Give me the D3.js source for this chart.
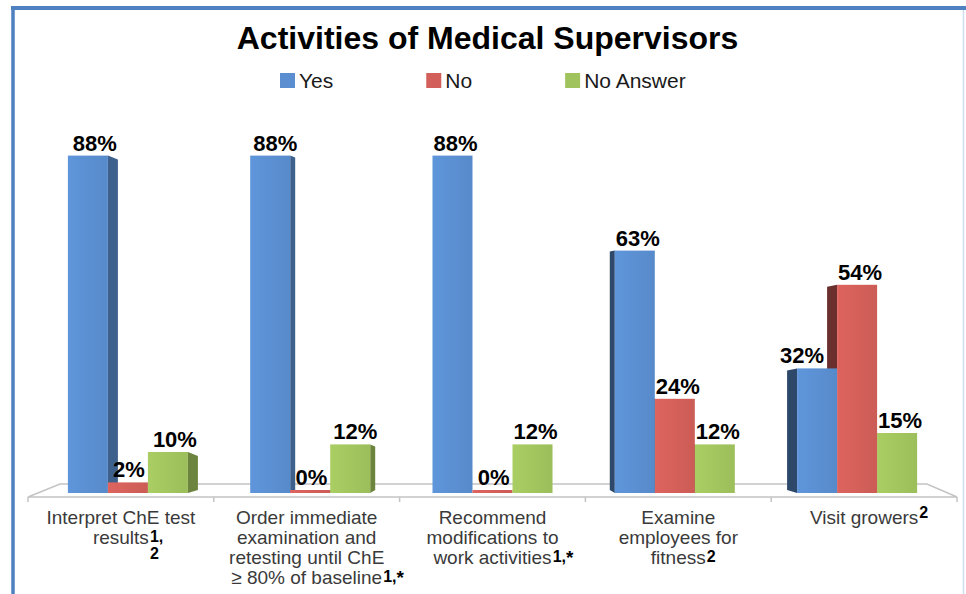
<!DOCTYPE html>
<html>
<head>
<meta charset="utf-8">
<script src="https://cdn.jsdelivr.net/npm/d3@7"></script>
<style>
  html, body { margin: 0; padding: 0; background: #ffffff; }
  svg { display: block; font-family: "Liberation Sans", Arial, sans-serif; }
</style>
</head>
<body>
<svg id="chart" width="966" height="594"></svg>
<script>
// ---------------- data ----------------
const chartTitle = "Activities of Medical Supervisors";
const categories = [
  "Interpret ChE test results",
  "Order immediate examination and retesting until ChE ≥ 80% of baseline",
  "Recommend modifications to work activities",
  "Examine employees for fitness",
  "Visit growers"
];
const categoryLabelLines = [
  ["Interpret ChE test", "results"],
  ["Order immediate", "examination and", "retesting until ChE", "≥ 80% of baseline"],
  ["Recommend", "modifications to", "work activities"],
  ["Examine", "employees for", "fitness"],
  ["Visit growers"]
];
const footnoteMarks = [["1,", "2"], ["1,*"], ["1,*"], ["2"], ["2"]];
const seriesNames = ["Yes", "No", "No Answer"];
const yesValues = [88, 88, 88, 63, 32];
const noValues = [2, 0, 0, 24, 54];
const noAnswerValues = [10, 12, 12, 12, 15];
const seriesValues = [yesValues, noValues, noAnswerValues];

// ---------------- styles ----------------
const seriesColors = ["#5a8ed0", "#d25f59", "#a1c35e"];
const W = 966, H = 594;

const svg = d3.select("#chart");

// frame
svg.append("line").attr("x1", 13).attr("x2", 13).attr("y1", 6).attr("y2", H)
  .attr("stroke", "#4f81c0").attr("stroke-width", 3.5);
svg.append("line").attr("x1", 11).attr("x2", W).attr("y1", 8).attr("y2", 8)
  .attr("stroke", "#4f81c0").attr("stroke-width", 4);
svg.append("line").attr("x1", 963.5).attr("x2", 963.5).attr("y1", 10).attr("y2", H)
  .attr("stroke", "#cddcee").attr("stroke-width", 1.5);

// title
svg.append("text").attr("x", 487.5).attr("y", 49).attr("text-anchor", "middle")
  .attr("font-size", 32).attr("font-weight", "bold").attr("fill", "#000")
  .text(chartTitle);

// legend
let lx = 280;
seriesNames.forEach((name, i) => {
  svg.append("rect").attr("x", lx).attr("y", 73).attr("width", 15).attr("height", 15)
    .attr("fill", seriesColors[i]);
  const t = svg.append("text").attr("x", lx + 19).attr("y", 88)
    .attr("font-size", 21).attr("fill", "#1a1a1a").text(name);
  lx += 19 + t.node().getComputedTextLength() + 93;
});

// scales
const x0 = d3.scaleBand().domain(categories).range([28, 957]).padding(0);
const bw = x0.bandwidth();
const x1 = d3.scaleBand().domain(seriesNames).range([bw * 0.177, bw * 0.823]).padding(0);
const y = d3.scaleLinear().domain([0, 100]).range([490, 110]);
const plotCenter = (28 + 957) / 2;
const barBottom = y(0) + 3;

// floor
const floorBack = 484, floorFront = 497;
svg.append("path")
  .attr("d", `M60,${floorBack} L927,${floorBack} L957,${floorFront} L28,${floorFront} Z`)
  .attr("fill", "#ffffff").attr("stroke", "#c4c4c4").attr("stroke-width", 1.5);
const tickXs = categories.map(c => x0(c)).concat([x0.range()[1]]);
svg.selectAll(".tick").data(tickXs).enter().append("line")
  .attr("x1", d => d).attr("x2", d => d).attr("y1", floorFront).attr("y2", floorFront + 5)
  .attr("stroke", "#c4c4c4").attr("stroke-width", 1.5);

// gradients
const defs = svg.append("defs");
seriesColors.forEach((c, i) => {
  const g = defs.append("linearGradient").attr("id", "g" + i)
    .attr("x1", "0%").attr("x2", "100%").attr("y1", "0%").attr("y2", "0%");
  g.append("stop").attr("offset", "0%").attr("stop-color", d3.color(c).brighter(0.15));
  g.append("stop").attr("offset", "100%").attr("stop-color", d3.color(c).darker(0.08));
});

// bars
const barsG = svg.append("g");
const labelInfo = [];
categories.forEach((cat, ci) => {
  const cc = x0(cat) + bw / 2;
  const offset = cc - plotCenter;           // perspective offset
  const ratio = offset / (plotCenter - (28 + bw / 2));
  const shift = -ratio * 7;
  const sideW = Math.abs(ratio) * 10;
  const sideRight = offset < -1;
  const sideLeft = offset > 1;
  let order = [0, 1, 2];
  if (sideLeft) order = [2, 1, 0];
  const rects = seriesNames.map((s, si) => {
    const v = seriesValues[si][ci];
    const xl = x0(cat) + x1(s) + shift;
    return { si, v, xl, xr: xl + x1.bandwidth(), top: Math.min(y(v), barBottom - 3) };
  });
  order.forEach(si => {
    const r = rects[si];
    const fill = seriesColors[si];
    if (sideRight && sideW > 0) {
      barsG.append("path")
        .attr("d", `M${r.xr},${r.top} L${r.xr + sideW},${r.top + sideW * 0.4} L${r.xr + sideW},${barBottom - 3} L${r.xr},${barBottom} Z`)
        .attr("fill", d3.color(fill).darker(1.1));
    }
    if (sideLeft && sideW > 0) {
      barsG.append("path")
        .attr("d", `M${r.xl},${r.top} L${r.xl - sideW},${r.top + sideW * 0.2} L${r.xl - sideW},${barBottom - 3} L${r.xl},${barBottom} Z`)
        .attr("fill", d3.color(fill).darker(1.9));
    }
    barsG.append("rect").attr("x", r.xl).attr("y", r.top)
      .attr("width", x1.bandwidth()).attr("height", barBottom - r.top)
      .attr("fill", `url(#g${si})`);
  });
  rects.forEach((r, si) => {
    let lxp = (r.xl + r.xr) / 2 + 3 + (sideRight ? sideW * 0.4 : 0);
    const next = rects[si + 1];
    labelInfo.push({ r, next, lxp, sideW, sideLeft, text: seriesValues[si][ci] + "%" });
  });
});

// data labels
const labelsG = svg.append("g");
labelInfo.forEach(d => {
  const t = labelsG.append("text").attr("y", d.r.top - 5).attr("text-anchor", "middle")
    .attr("font-size", 22).attr("font-weight", "bold").attr("fill", "#000").text(d.text);
  const w = t.node().getComputedTextLength();
  let cx = d.lxp;
  if (d.next && d.next.top < d.r.top - 10) {
    const limit = d.next.xl - (d.sideLeft ? d.sideW : 0) - 3;
    if (cx + w / 2 > limit) cx = limit - w / 2;
  }
  t.attr("x", cx);
});

// category labels
const catG = svg.append("g");
categories.forEach((cat, ci) => {
  const cc = x0(cat) + bw / 2;
  const lines = categoryLabelLines[ci];
  let lastEnd = 0, lastBase = 0;
  lines.forEach((ln, li) => {
    const base = 524 + li * 20;
    const t = catG.append("text").attr("x", cc).attr("y", base).attr("text-anchor", "middle")
      .attr("font-size", 19).attr("fill", "#3a3a3a").text(ln);
    lastEnd = cc + t.node().getComputedTextLength() / 2;
    lastBase = base;
  });
  footnoteMarks[ci].forEach((m, mi) => {
    const ft = catG.append("text").attr("x", lastEnd + 1)
      .attr("y", mi === 0 ? lastBase - (lines.length > 1 ? 2 : 6) : lastBase + 15)
      .attr("font-size", 16).attr("font-weight", "bold").attr("fill", "#000");
    m.split(/(\*)/).filter(s => s.length).forEach(part => {
      const ts = ft.append("tspan").text(part);
      if (part === "*") ts.attr("font-size", 19).attr("dy", 2);
    });
  });
});
</script>
</body>
</html>
